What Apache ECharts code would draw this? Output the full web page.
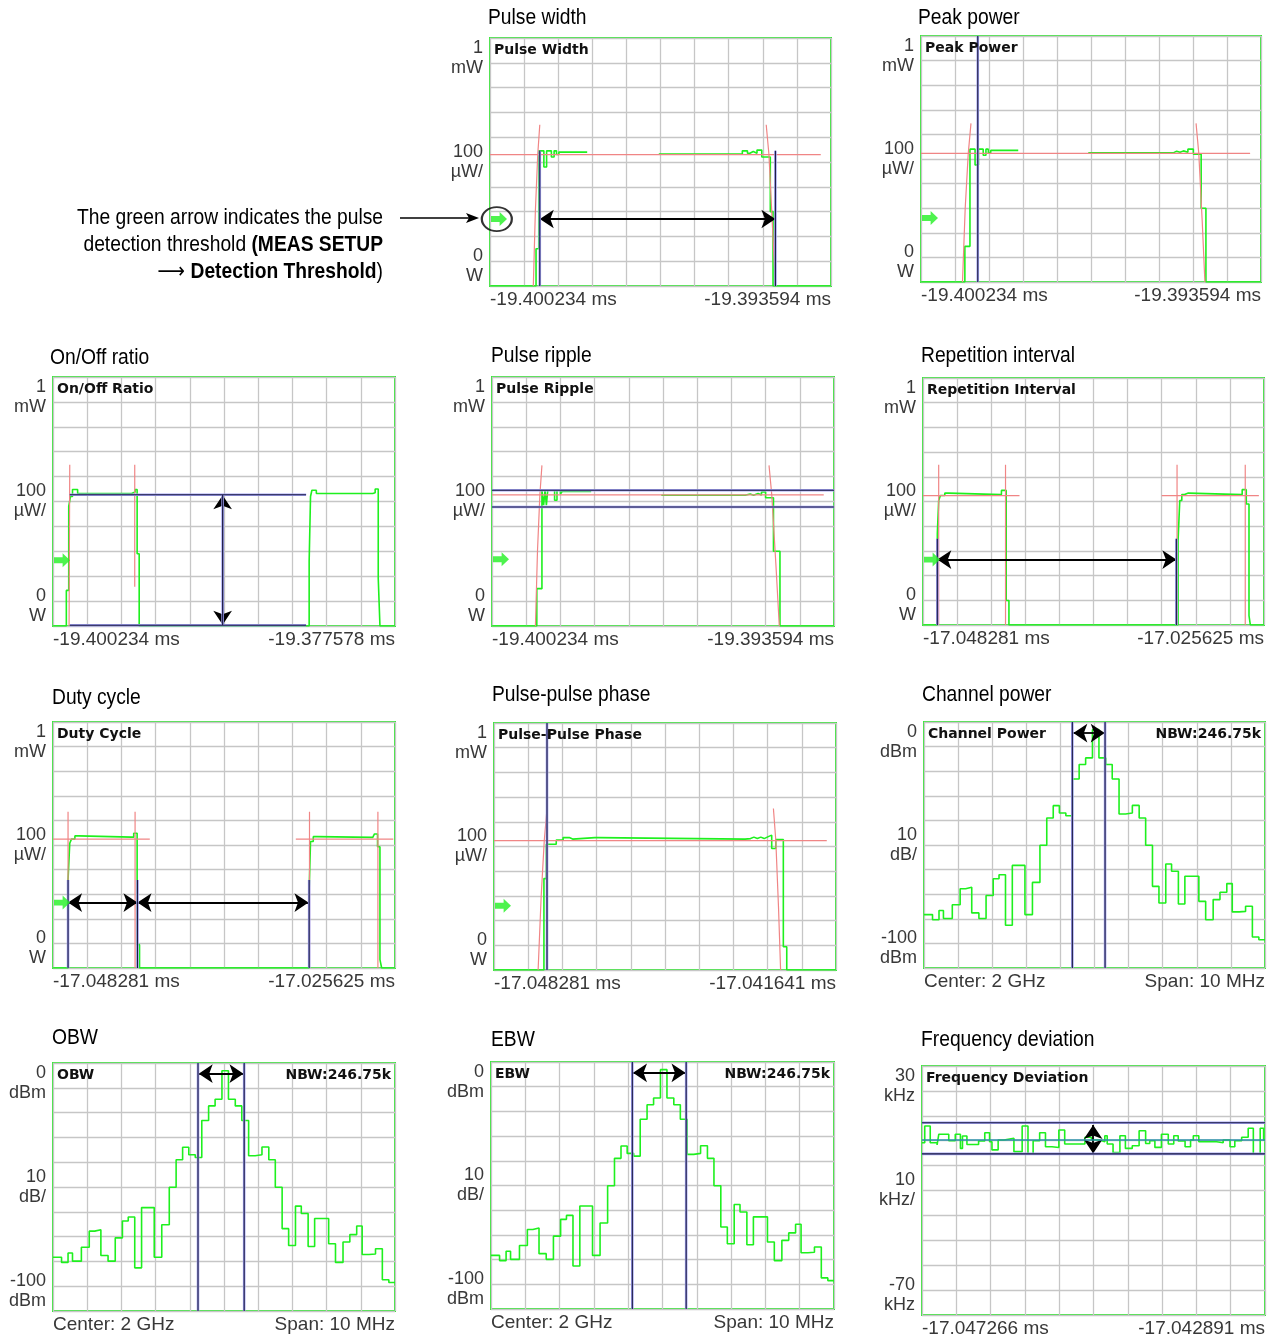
<!DOCTYPE html>
<html><head><meta charset="utf-8">
<script src="https://cdn.jsdelivr.net/npm/echarts@6/dist/echarts.min.js"></script>
<style>html,body{margin:0;padding:0;background:#fff}#c{width:1276px;height:1338px}</style>
</head><body><div id="c"></div>
<script>
// ---------- axis tick labels ----------
const powerYLabels = ['0\nW', '100\nµW/', '1\nmW'];
const dbmYLabels = ['-100\ndBm', '10\ndB/', '0\ndBm'];
const khzYLabels = ['-70\nkHz', '10\nkHz/', '30\nkHz'];
const pwXLabels = ['-19.400234 ms', '-19.393594 ms'];
const ooXLabels = ['-19.400234 ms', '-19.377578 ms'];
const riXLabels = ['-17.048281 ms', '-17.025625 ms'];
const pppXLabels = ['-17.048281 ms', '-17.041641 ms'];
const specXLabels = ['Center: 2 GHz', 'Span: 10 MHz'];
const fdXLabels = ['-17.047266 ms', '-17.042891 ms'];

// ---------- Pulse width (time in divisions, power in µW) ----------
const pwTrace = [[0,0],[1.35,150],[1.43,545],[1.58,480],[1.66,545],[1.80,520],[1.88,545],[1.95,530],[2.02,540],[2.85,540],[2.86,null],[4.95,532],[7.40,545],[7.55,535],[7.62,542],[7.72,535],[7.83,548],[7.97,520],[8.22,300],[8.30,0],[10,0]];
const pwRed = [[[0,530],[9.7,530]], [[1.27,0],[1.33,300],[1.40,530],[1.46,650]], [[8.10,650],[8.18,530],[8.28,250],[8.37,0]]];
const pwBlue = [[[1.46,0],[1.46,545]], [[8.37,0],[8.37,545]]];
const pwArrows = [[[1.46,270],[8.37,270]]];
const pwThreshold = 270;

// ---------- Peak power ----------
const ppTrace = [[0,0],[1.29,145],[1.44,540],[1.59,476],[1.69,540],[1.83,515],[1.91,540],[1.98,525],[2.05,535],[2.86,535],[2.87,null],[4.92,525],[7.42,532],[7.52,527],[7.62,533],[7.72,527],[7.85,540],[8.01,520],[8.24,300],[8.38,0],[10,0]];
const ppRed = [[[0,523],[9.68,523]], [[1.22,0],[1.30,300],[1.39,523],[1.47,645]], [[8.09,645],[8.17,523],[8.27,250],[8.35,0]]];
const ppBlue = [[[1.67,0],[1.67,1000]]];
const ppThreshold = 260;

// ---------- On/Off ratio ----------
const ooTrace = [[0,0],[0.39,143],[0.46,480],[0.51,520],[0.57,548],[0.72,532],[2.30,538],[2.40,548],[2.46,290],[2.52,0],[7.49,260],[7.53,520],[7.57,545],[7.70,532],[9.35,535],[9.42,550],[9.51,192],[9.56,0],[10,0]];
const ooRed = [[[0.47,0],[0.49,648]], [[2.39,158],[2.39,648]]];
const ooBlue = [[[0.49,527],[7.4,527]], [[0.49,3],[7.4,3]], [[4.96,3],[4.96,527]]];
const ooArrows = [[[4.96,525],[4.96,5]]];
const ooThreshold = 264;

// ---------- Pulse ripple ----------
const prTrace = [[0,0],[1.31,150],[1.46,545],[1.51,485],[1.55,545],[1.59,485],[1.63,545],[1.83,505],[1.90,545],[2.00,530],[2.05,540],[2.90,540],[2.91,null],[4.95,525],[7.40,530],[7.55,525],[7.65,532],[7.78,526],[7.88,538],[8.00,515],[8.23,300],[8.42,0],[10,0]];
const prRed = [[[0,527],[9.7,527]], [[1.27,0],[1.33,300],[1.40,527],[1.46,645]], [[8.10,645],[8.18,527],[8.30,250],[8.40,0]]];
const prBlue = [[[0,545],[10,545]], [[0,478],[10,478]]];
const prThreshold = 268;

// ---------- Repetition interval ----------
const riTrace = [[0,0],[0.42,369],[0.46,504],[0.51,524],[0.64,534],[0.75,528],[2.30,545],[2.44,99],[2.52,0],[7.48,342],[7.53,504],[7.59,528],[7.67,534],[7.78,528],[9.36,548],[9.48,490],[9.56,38],[9.60,0],[10,0]];
const riRed = [[[0.46,0],[0.46,649]], [[2.42,0],[2.42,649]], [[7.45,0],[7.45,649]], [[9.45,0],[9.45,649]], [[0,524],[2.83,524]], [[7.0,524],[9.85,524]]];
const riBlue = [[[0.42,0],[0.42,349]], [[7.43,0],[7.43,349]]];
const riArrows = [[[0.42,265],[7.43,265]]];
const riThreshold = 265;

// ---------- Duty cycle ----------
const dcTrace = [[0,0],[0.44,358],[0.49,507],[0.54,524],[0.64,537],[0.75,532],[2.30,532],[2.36,548],[2.46,95],[2.53,0],[7.49,318],[7.53,514],[7.61,534],[7.72,531],[9.35,531],[9.40,545],[9.49,493],[9.56,34],[9.61,0],[10,0]];
const dcRed = [[[0.44,0],[0.44,635]], [[2.40,0],[2.40,635]], [[7.50,0],[7.50,635]], [[9.50,0],[9.50,635]], [[0,524],[2.83,524]], [[7.1,524],[9.95,524]]];
const dcBlue = [[[0.44,0],[0.44,358]], [[2.47,0],[2.47,358]], [[7.49,0],[7.49,358]]];
const dcArrows = [[[0.44,266],[2.47,266]], [[2.47,266],[7.47,266]]];
const dcThreshold = 266;

// ---------- Pulse-pulse phase ----------
const pppTrace = [[0,0],[1.46,370],[1.53,509],[1.82,526],[2.02,536],[2.20,530],[2.30,536],[2.95,536],[3.05,530],[7.34,532],[7.50,538],[7.60,532],[7.70,538],[7.80,532],[7.90,540],[8.02,546],[8.12,492],[8.24,528],[8.46,94],[8.56,0],[10,0]];
const pppRed = [[[0,524],[9.73,524]], [[1.29,0],[1.38,300],[1.47,524],[1.55,654]], [[8.17,654],[8.24,524],[8.32,250],[8.38,0]]];
const pppBlue = [[[1.55,0],[1.55,1000]]];
const pppThreshold = 260;

// ---------- Spectrum (MHz offset from 2 GHz, dBm), step trace bin starts ----------
const specMHz = [-5.00,-4.75,-4.56,-4.43,-4.17,-3.94,-3.78,-3.60,-3.39,-3.18,-2.97,-2.80,-2.61,-2.41,-2.04,-1.82,-1.60,-1.40,-1.21,-1.03,-0.84,-0.65,-0.45,-0.26,-0.06,0.13,0.33,0.52,0.72,0.91,1.11,1.31,1.50,1.70,1.89,2.09,2.26,2.46,2.65,3.06,3.26,3.48,3.68,3.88,4.04,4.24,4.43,4.63,4.82,5.00];
const specDbm = [-78.3,-80.4,-76.6,-79.9,-74.3,-67.8,-67.2,-77.6,-79.9,-70.5,-63.7,-62.1,-82.6,-58.3,-78.3,-65.2,-50.1,-39.0,-34.0,-37.0,-38.1,-23.2,-17.3,-14.6,-3.1,-14.6,-17.3,-23.2,-37.4,-37.0,-33.9,-39.0,-50.1,-66.8,-73.6,-57.7,-60.7,-74.0,-62.7,-72.9,-80.4,-72.2,-69.2,-65.7,-77.2,-77.0,-74.9,-87.4,-88.5,-88.5];
const cpBlue = [[[-0.65,-100],[-0.65,0]], [[0.31,-100],[0.31,0]]];
const cpArrows = [[[-0.62,-4.5],[0.30,-4.5]]];
const obwBlue = [[[-0.76,-100],[-0.76,0]], [[0.59,-100],[0.59,0]]];
const obwArrows = [[[-0.74,-4.3],[0.57,-4.3]]];
const ebwBlue = [[[-0.88,-100],[-0.88,0]], [[0.69,-100],[0.69,0]]];
const ebwArrows = [[[-0.86,-4.4],[0.67,-4.4]]];
const nbwText = 'NBW:246.75k';

// ---------- Frequency deviation (time in divisions, kHz) ----------
const fdTime = [0,0.08,0.24,0.44,0.49,0.78,0.97,1.12,1.18,1.31,1.65,1.83,1.97,2.04,2.22,2.39,2.68,2.92,3.09,3.24,3.43,3.60,3.79,3.99,4.16,4.75,4.94,5.18,5.33,5.40,5.57,5.77,5.93,6.13,6.33,6.52,6.64,6.79,6.98,7.18,7.34,7.47,7.67,7.83,7.91,8.07,8.59,8.78,8.98,9.12,9.32,9.51,9.66,9.86,9.96,10];
const fdKHz = [-0.8,5.9,-0.8,-1.7,2.6,0.0,2.6,-3.1,1.9,-1.5,-0.1,3.2,-0.4,-3.7,0.3,1.0,-4.4,5.9,-5.3,0.0,3.2,-2.4,-2.7,4.3,-1.3,1.4,0.3,-0.4,2.0,-1.3,-4.8,2.0,-3.1,-2.0,4.0,-1.1,0.0,-2.7,2.6,-1.3,2.0,-0.1,-2.4,0.3,2.0,-0.4,-0.8,0.3,-2.4,0.0,1.4,5.0,-5.3,5.0,0.3,0.3];
const fdBlue = [[[0,7.2],[10,7.2]], [[0,-5.3],[10,-5.3]]];
const fdTeal = [[[0,0.3],[10,0.3]]];
const fdArrows = [[[4.99,6.3],[4.99,-5.1]]];

// ---------- styles ----------
const BORDER = '#3de83d', TRACE = '#1ef01e', RED = '#f08585', GRIDC = '#c6c6c6', NAVY = '#1a1a40', LBLUE = '#a2a2f2', LABC = '#383838';
const SANS = "'Liberation Sans', Arial, sans-serif";
const BOLDF = "'DejaVu Sans', Verdana, sans-serif";
const ARROW_PATH = 'path://M0,3.5L7,3.5L7,0L13,6L7,12L7,8.5L0,8.5Z';
const NARROW_SCALE = 0.875;

const option = {animation:false, backgroundColor:'#ffffff', title:[], grid:[], xAxis:[], yAxis:[], series:[], graphic:[]};
const near = (a,b) => Math.abs(a-b) < 1e-6;
function segs(list){ const out=[]; list.forEach((s,k)=>{ if(k) out.push(['-','-']); s.forEach(pt=>out.push(pt)); }); return out; }
function zip(xs, ys){ return xs.map((x,k)=>[x, ys[k]]); }
function narrowText(text, x, y, align, rich){
  const st = {text:text, x:0, y:0, fill:'#000', fontSize:22, fontFamily:SANS, align:align, verticalAlign:'middle'};
  if (rich) st.rich = rich;
  option.graphic.push({type:'text', silent:true, x:x, y:y, scaleX:NARROW_SCALE, scaleY:1, style:st});
}

function addPanel(p){
  const i = option.grid.length;
  const [L,T,R,B] = p.box;
  option.grid.push({left:L, top:T, width:R-L, height:B-T, show:true, backgroundColor:'#fff', borderColor:BORDER, borderWidth:2});
  option.xAxis.push({gridIndex:i, type:'value', min:p.x[0], max:p.x[1], interval:1,
    axisLine:{show:false}, axisTick:{show:false},
    splitLine:{show:true, lineStyle:{color:GRIDC, width:1.3}},
    axisLabel:{margin:4, fontSize:19, fontFamily:SANS, color:LABC, alignMinLabel:'left', alignMaxLabel:'right', showMinLabel:true, showMaxLabel:true,
      formatter: v => near(v,p.x[0]) ? p.xl[0] : (near(v,p.x[1]) ? p.xl[1] : '')}});
  const ymid = (p.y[0]+p.y[1])/2;
  option.yAxis.push({gridIndex:i, type:'value', min:p.y[0], max:p.y[1], interval:(p.y[1]-p.y[0])/10,
    axisLine:{show:false}, axisTick:{show:false},
    splitLine:{show:true, lineStyle:{color:GRIDC, width:1.3}},
    axisLabel:{margin:7, fontSize:18, lineHeight:20, fontFamily:SANS, color:LABC, align:'right', showMinLabel:true, showMaxLabel:true,
      verticalAlignMinLabel:'bottom', verticalAlignMaxLabel:'top',
      formatter: v => near(v,p.y[0]) ? p.yl[0] : (near(v,ymid) ? p.yl[1] : (near(v,p.y[1]) ? p.yl[2] : ''))}});
  narrowText(p.title, p.tpos[0], p.tpos[1], 'left');
  option.title.push({text:p.inner, left:L+4, top:T+5, padding:0,
    textStyle:{fontSize:14, fontWeight:'bold', fontFamily:BOLDF, color:'#111'}});
  if (p.nbw) option.title.push({text:p.nbw, right:1276-R+4, top:T+5, padding:0,
    textStyle:{fontSize:14, fontWeight:'bold', fontFamily:BOLDF, color:'#111'}});
  const base = {xAxisIndex:i, yAxisIndex:i, animation:false, silent:true, symbol:'none', showSymbol:false};
  option.series.push(Object.assign({}, base, {type:'line', data:p.trace, step:'end', lineStyle:{color:TRACE, width:1.6}, z:3}));
  if (p.red) option.series.push(Object.assign({}, base, {type:'line', data:segs(p.red), lineStyle:{color:RED, width:1.2}, z:4}));
  if (p.blue) {
    option.series.push(Object.assign({}, base, {type:'line', data:segs(p.blue), lineStyle:{color:LBLUE, width:2.6}, z:5}));
    option.series.push(Object.assign({}, base, {type:'line', data:segs(p.blue), lineStyle:{color:NAVY, width:1.1}, z:6}));
  }
  if (p.teal) option.series.push(Object.assign({}, base, {type:'line', data:segs(p.teal), lineStyle:{color:'#2a8fa8', width:1.4}, z:5}));
  if (p.arrows) option.series.push(Object.assign({}, base, {type:'line', data:[], z:7,
    markLine:{silent:true, symbol:['arrow','arrow'], symbolSize:14, label:{show:false}, emphasis:{disabled:true},
      lineStyle:{color:'#000', width:1.8, type:'solid'}, data:p.arrows.map(a=>[{coord:a[0]},{coord:a[1]}])}}));
  if (p.thr != null) option.series.push(Object.assign({}, base, {type:'scatter', data:[[p.x[0], p.thr]], symbol:ARROW_PATH, symbolSize:[16,14], symbolOffset:[9,0], itemStyle:{color:'#22f022'}, clip:false, z:8}));
  return i;
}

const DIV = [0,10], PWR = [0,1000];
const iPW = addPanel({box:[490,38,831,286], x:DIV, y:PWR, xl:pwXLabels, yl:powerYLabels, title:'Pulse width', tpos:[488,18], inner:'Pulse Width', trace:pwTrace, red:pwRed, blue:pwBlue, arrows:pwArrows, thr:pwThreshold});
addPanel({box:[921,36,1261,282], x:DIV, y:PWR, xl:pwXLabels, yl:powerYLabels, title:'Peak power', tpos:[918,18], inner:'Peak Power', trace:ppTrace, red:ppRed, blue:ppBlue, thr:ppThreshold});
addPanel({box:[53,377,395,626], x:DIV, y:PWR, xl:ooXLabels, yl:powerYLabels, title:'On/Off ratio', tpos:[50,358], inner:'On/Off Ratio', trace:ooTrace, red:ooRed, blue:ooBlue, arrows:ooArrows, thr:ooThreshold});
addPanel({box:[492,377,834,626], x:DIV, y:PWR, xl:pwXLabels, yl:powerYLabels, title:'Pulse ripple', tpos:[491,356], inner:'Pulse Ripple', trace:prTrace, red:prRed, blue:prBlue, thr:prThreshold});
addPanel({box:[923,378,1264,625], x:DIV, y:PWR, xl:riXLabels, yl:powerYLabels, title:'Repetition interval', tpos:[921,356], inner:'Repetition Interval', trace:riTrace, red:riRed, blue:riBlue, arrows:riArrows, thr:riThreshold});
addPanel({box:[53,722,395,968], x:DIV, y:PWR, xl:riXLabels, yl:powerYLabels, title:'Duty cycle', tpos:[52,698], inner:'Duty Cycle', trace:dcTrace, red:dcRed, blue:dcBlue, arrows:dcArrows, thr:dcThreshold});
addPanel({box:[494,723,836,970], x:DIV, y:PWR, xl:pppXLabels, yl:powerYLabels, title:'Pulse-pulse phase', tpos:[492,695], inner:'Pulse-Pulse Phase', trace:pppTrace, red:pppRed, blue:pppBlue, thr:pppThreshold});
const spec = zip(specMHz, specDbm);
addPanel({box:[924,722,1265,968], x:[-5,5], y:[-100,0], xl:specXLabels, yl:dbmYLabels, title:'Channel power', tpos:[922,695], inner:'Channel Power', nbw:nbwText, trace:spec, blue:cpBlue, arrows:cpArrows});
addPanel({box:[53,1063,395,1311], x:[-5,5], y:[-100,0], xl:specXLabels, yl:dbmYLabels, title:'OBW', tpos:[52,1038], inner:'OBW', nbw:nbwText, trace:spec, blue:obwBlue, arrows:obwArrows});
addPanel({box:[491,1062,834,1309], x:[-5,5], y:[-100,0], xl:specXLabels, yl:dbmYLabels, title:'EBW', tpos:[491,1040], inner:'EBW', nbw:nbwText, trace:spec, blue:ebwBlue, arrows:ebwArrows});
addPanel({box:[922,1066,1265,1315], x:DIV, y:[-70,30], xl:fdXLabels, yl:khzYLabels, title:'Frequency deviation', tpos:[921,1040], inner:'Frequency Deviation', trace:zip(fdTime, fdKHz), blue:fdBlue, teal:fdTeal, arrows:fdArrows});

// ---------- annotation for the pulse width panel ----------
option.series.push({type:'scatter', xAxisIndex:iPW, yAxisIndex:iPW, silent:true, clip:false, z:9,
  data:[[0.2, pwThreshold]], symbol:'circle', symbolSize:[30,24], itemStyle:{color:'rgba(0,0,0,0)', borderColor:'#000', borderWidth:2}});
option.graphic.push({type:'line', silent:true, shape:{x1:400, y1:218, x2:470, y2:218}, style:{stroke:'#000', lineWidth:1.5}});
option.graphic.push({type:'polygon', silent:true, shape:{points:[[479,218],[466,213],[469,218],[466,223]]}, style:{fill:'#000'}});
const boldRich = {b:{fontSize:22, fontFamily:SANS, fontWeight:'bold'}, n:{fontSize:22, fontFamily:SANS}, a:{fontSize:22, fontFamily:"'DejaVu Sans', sans-serif"}};
narrowText('{n|The green arrow indicates the pulse}', 383, 218, 'right', boldRich);
narrowText('{n|detection threshold }{b|(MEAS SETUP}', 383, 245, 'right', boldRich);
narrowText('{a|⟶}{n| }{b|Detection Threshold}{n|)}', 383, 272, 'right', boldRich);

const chart = echarts.init(document.getElementById('c'), null, {renderer:'canvas'});
chart.setOption(option);
</script></body></html>
